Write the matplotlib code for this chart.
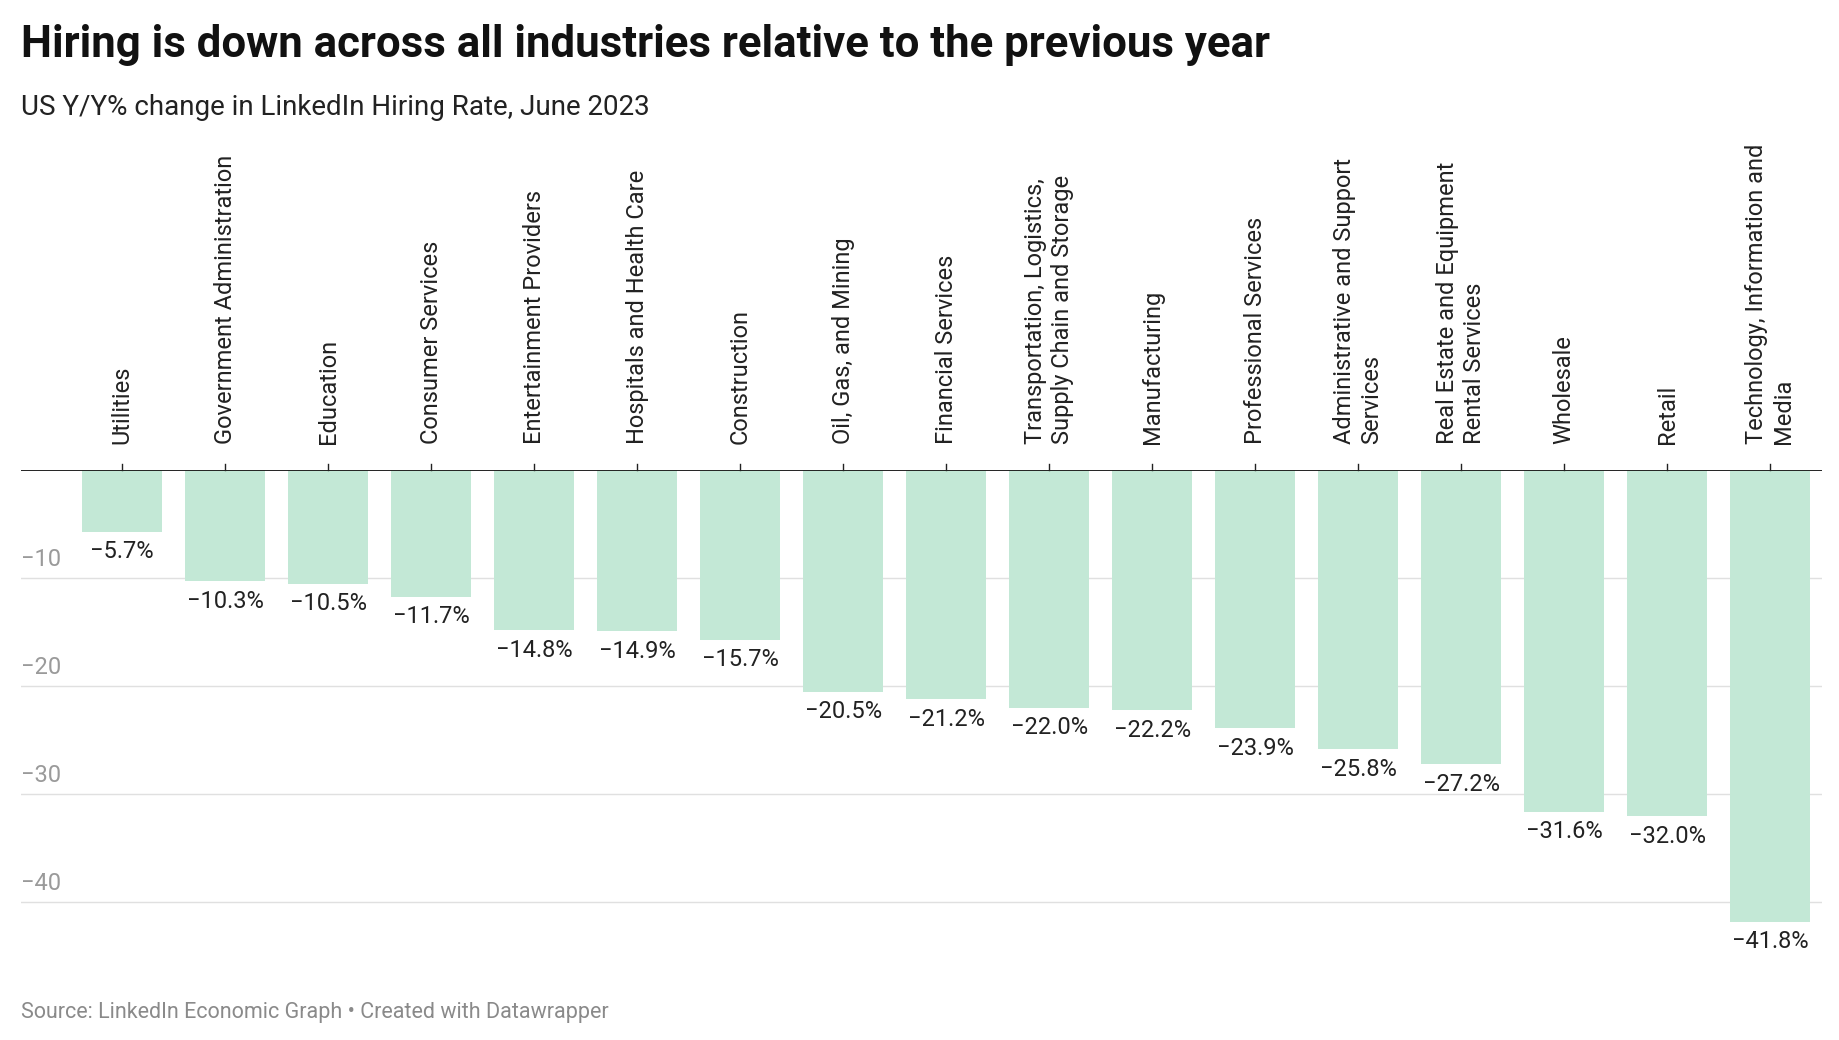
import matplotlib
matplotlib.use("Agg")
import matplotlib.pyplot as plt

categories = ["Utilities", "Government Administration", "Education", "Consumer Services",
              "Entertainment Providers", "Hospitals and Health Care", "Construction",
              "Oil, Gas, and Mining", "Financial Services",
              "Transportation, Logistics,\nSupply Chain and Storage", "Manufacturing",
              "Professional Services", "Administrative and Support\nServices",
              "Real Estate and Equipment\nRental Services", "Wholesale", "Retail",
              "Technology, Information and\nMedia"]
values = [-5.7, -10.3, -10.5, -11.7, -14.8, -14.9, -15.7, -20.5, -21.2, -22.0, -22.2,
          -23.9, -25.8, -27.2, -31.6, -32.0, -41.8]
yticks = [-10, -20, -30, -40]

plt.rcParams['font.family'] = ['Roboto', 'DejaVu Sans']
fig = plt.figure(figsize=(18.4, 10.4), dpi=100)
ax = fig.add_axes([0.0115, 0.07, 0.9785, 0.478])
x = list(range(len(values)))
ax.bar(x, values, width=0.78, color="#c3e8d6", zorder=2)
ax.set_xlim(-0.98, len(values) - 0.5)
ax.set_ylim(-46, 0)
for s in ax.spines.values():
    s.set_visible(False)
ax.set_xticks([]); ax.set_yticks([])
ax.axhline(0, color="#222222", lw=1.4, zorder=3)
for t in yticks:
    ax.axhline(t, color="#e0e0e0", lw=1, zorder=1)
    ax.text(-0.98, t + 0.7, f"\u2212{abs(t)}", color="#9a9a9a", fontsize=17,
            ha="left", va="bottom")
for xi, v, c in zip(x, values, categories):
    ax.text(xi, v - 0.8, f"\u2212{abs(v):.1f}%", ha="center", va="top", fontsize=17,
            color="#222222")
    ax.text(xi, 2.4, c, rotation=90, ha="center", va="bottom", fontsize=17,
            color="#222222", multialignment="left", clip_on=False)
    ax.plot([xi, xi], [0, 0.6], color="#222222", lw=1, clip_on=False)

fig.text(0.0115, 0.957, "Hiring is down across all industries relative to the previous year",
         fontsize=31.5, fontweight="bold", va="center", color="#111111")
fig.text(0.0115, 0.897, "US Y/Y% change in LinkedIn Hiring Rate, June 2023",
         fontsize=20, va="center", color="#222222")
fig.text(0.0115, 0.026, "Source: LinkedIn Economic Graph \u2022 Created with Datawrapper",
         fontsize=15.5, va="center", color="#8a8a8a")
fig.savefig("out.png", dpi=100, facecolor="white")
